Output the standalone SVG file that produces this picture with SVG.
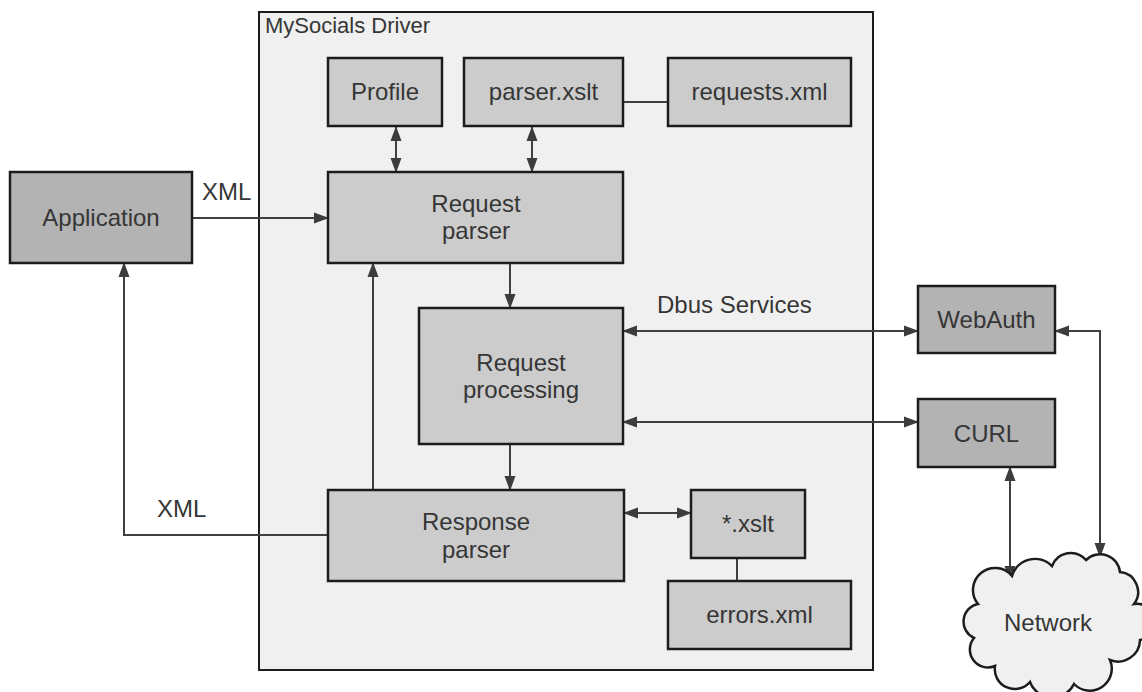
<svg xmlns="http://www.w3.org/2000/svg" width="1142" height="692" viewBox="0 0 1142 692">
<style>
  .box { stroke: #1c1c1c; stroke-width: 2.5; }
  .inner { fill: #cccccc; }
  .outer { fill: #b3b3b3; }
  .lbl { font-family: "Liberation Sans", Arial, sans-serif; font-size: 24px; fill: #363636; }
  .c { text-anchor: middle; }
  .conn { fill: none; stroke: #404040; stroke-width: 2; }
</style>
<defs>
  <marker id="ah" markerUnits="userSpaceOnUse" markerWidth="15" markerHeight="12" refX="14" refY="6" orient="auto-start-reverse" viewBox="0 0 15 12">
    <path d="M0,0.5 L15,6 L0,11.5 Z" fill="#3c3c3c"/>
  </marker>
</defs>
<rect width="1142" height="692" fill="#ffffff"/>

<g id="container">
  <rect x="259" y="12" width="614" height="658" fill="#f0f0f0" stroke="#1c1c1c" stroke-width="2"/>
  <text class="lbl" x="265" y="33" style="font-size:22px">MySocials Driver</text>
</g>

<g id="connectors">
  <path class="conn" d="M192,218 H328" marker-end="url(#ah)"/>
  <path class="conn" d="M396,127 V172" marker-start="url(#ah)" marker-end="url(#ah)"/>
  <path class="conn" d="M532,127 V172" marker-start="url(#ah)" marker-end="url(#ah)"/>
  <path class="conn" d="M623,102 H668"/>
  <path class="conn" d="M510,263 V308" marker-end="url(#ah)"/>
  <path class="conn" d="M510,444 V490" marker-end="url(#ah)"/>
  <path class="conn" d="M373,490 V263" marker-end="url(#ah)"/>
  <path class="conn" d="M328,535 H124 V263" marker-end="url(#ah)"/>
  <path class="conn" d="M623,331 H918" marker-start="url(#ah)" marker-end="url(#ah)"/>
  <path class="conn" d="M623,422 H918" marker-start="url(#ah)" marker-end="url(#ah)"/>
  <path class="conn" d="M624,513 H691" marker-start="url(#ah)" marker-end="url(#ah)"/>
  <path class="conn" d="M737,558 V581"/>
  <path class="conn" d="M1010,467 V580" marker-start="url(#ah)" marker-end="url(#ah)"/>
  <path class="conn" d="M1055,331 H1100 V557" marker-start="url(#ah)" marker-end="url(#ah)"/>
  <text class="lbl" x="202" y="200">XML</text>
  <text class="lbl" x="157" y="517">XML</text>
  <text class="lbl" x="657" y="313">Dbus Services</text>
</g>

<g id="application">
  <rect class="box outer" x="10" y="172" width="182" height="91"/>
  <text class="lbl c" x="101" y="226">Application</text>
</g>
<g id="profile">
  <rect class="box inner" x="328" y="58" width="114" height="68"/>
  <text class="lbl c" x="385" y="100">Profile</text>
</g>
<g id="parser-xslt">
  <rect class="box inner" x="464" y="58" width="159" height="68"/>
  <text class="lbl c" x="543.5" y="100">parser.xslt</text>
</g>
<g id="requests-xml">
  <rect class="box inner" x="668" y="58" width="183" height="68"/>
  <text class="lbl c" x="759.5" y="100">requests.xml</text>
</g>
<g id="request-parser">
  <rect class="box inner" x="328" y="172" width="295" height="91"/>
  <text class="lbl c" x="476" y="212">Request</text>
  <text class="lbl c" x="476" y="239">parser</text>
</g>
<g id="request-processing">
  <rect class="box inner" x="419" y="308" width="204" height="136"/>
  <text class="lbl c" x="521" y="371">Request</text>
  <text class="lbl c" x="521" y="398">processing</text>
</g>
<g id="response-parser">
  <rect class="box inner" x="328" y="490" width="296" height="91"/>
  <text class="lbl c" x="476" y="530">Response</text>
  <text class="lbl c" x="476" y="558">parser</text>
</g>
<g id="xslt">
  <rect class="box inner" x="691" y="490" width="114" height="68"/>
  <text class="lbl c" x="748" y="532">*.xslt</text>
</g>
<g id="errors-xml">
  <rect class="box inner" x="668" y="581" width="183" height="68"/>
  <text class="lbl c" x="759.5" y="623">errors.xml</text>
</g>
<g id="webauth">
  <rect class="box outer" x="918" y="286" width="137" height="67"/>
  <text class="lbl c" x="986.5" y="328">WebAuth</text>
</g>
<g id="curl">
  <rect class="box outer" x="918" y="399" width="137" height="68"/>
  <text class="lbl c" x="986.5" y="442">CURL</text>
</g>
<g id="network">
  <path d="M978,604 A22,22 0 0 1 1012,576 A24,24 0 0 1 1052,566 A20,20 0 0 1 1086,560 A20,20 0 0 1 1120,572 A20,20 0 0 1 1134,604 A18,18 0 0 1 1140,640 A22,22 0 0 1 1110,660 A22,22 0 0 1 1074,684 A24,24 0 0 1 1030,682 A20,20 0 0 1 995,666 A18,18 0 0 1 974,638 A18,18 0 0 1 978,604 Z" fill="#f0f0f0" stroke="#1c1c1c" stroke-width="2.5"/>
  <text class="lbl c" x="1048" y="631">Network</text>
</g>
</svg>
